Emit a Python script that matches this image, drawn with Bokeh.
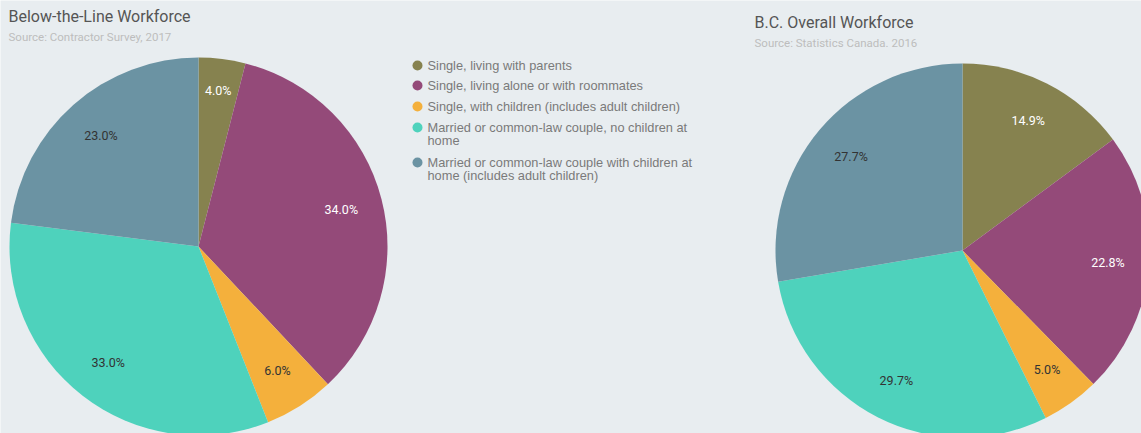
import math
from bokeh.plotting import figure
from bokeh.models import Range1d, ColumnDataSource
from bokeh.core.properties import value
from bokeh.embed import file_html
from bokeh.resources import INLINE

# ---- data ----
categories = [
    "Single, living with parents",
    "Single, living alone or with roommates",
    "Single, with children (includes adult children)",
    "Married or common-law couple, no children at\nhome",
    "Married or common-law couple with children at\nhome (includes adult children)",
]
btl_values = [4.0, 34.0, 6.0, 33.0, 23.0]
bc_values = [14.9, 22.8, 5.0, 29.7, 27.7]
titles = ["Below-the-Line Workforce", "B.C. Overall Workforce"]
sources = ["Source: Contractor Survey, 2017", "Source: Statistics Canada. 2016"]

# ---- styles ----
colors = ["#86824f", "#944a79", "#f4b03c", "#4ed2bc", "#6b93a3"]
label_colors = ["#ffffff", "#ffffff", "#333333", "#333333", "#333333"]
BG = "#e8edf0"

W, H = 1141, 433
PAGE_H = 433

def py(page_y):
    return PAGE_H - page_y

p = figure(width=W, height=H, output_backend="svg", toolbar_location=None,
           x_range=Range1d(0, W), y_range=Range1d(0, H),
           min_border=0, outline_line_color=None,
           background_fill_color=BG, border_fill_color=BG)
p.axis.visible = False
p.grid.visible = False

def draw_pie(vals, cx, cy, r):
    total = sum(vals)
    starts, ends, lx, ly, texts = [], [], [], [], []
    cum = 0.0
    for v in vals:
        a0 = math.pi / 2 - 2 * math.pi * cum / total
        cum += v
        a1 = math.pi / 2 - 2 * math.pi * cum / total
        starts.append(a0)
        ends.append(a1)
        mid = (a0 + a1) / 2
        frac = v / total
        rr = r * (0.83 if frac < 0.045 else 0.78)
        lx.append(cx + rr * math.cos(mid))
        ly.append(cy + rr * math.sin(mid))
        texts.append(f"{v:.1f}%")
    src = ColumnDataSource(dict(start=starts, end=ends, color=colors,
                                lx=lx, ly=ly, text=texts, tc=label_colors))
    p.wedge(x=cx, y=cy, radius=r, start_angle="start", end_angle="end",
            direction="clock", fill_color="color", line_color=None, source=src)
    p.text(x="lx", y="ly", text="text", text_color="tc", source=src,
           text_font=value("Roboto"), text_font_size="12.5px",
           text_align="center", text_baseline="middle")

draw_pie(btl_values, 198, py(246), 189)
draw_pie(bc_values, 962, py(250), 187)

# titles
for (tx, ty, sy), t, s in zip([(8, 16, 36), (754, 22, 42)], titles, sources):
    p.text(x=[tx], y=[py(ty)], text=[t], text_font=value("Roboto"),
           text_font_size="16px", text_color="#555555",
           text_align="left", text_baseline="middle")
    p.text(x=[tx], y=[py(sy)], text=[s], text_font=value("Roboto"),
           text_font_size="11.5px", text_color="#bdbdbd",
           text_align="left", text_baseline="middle")

# legend
row_y = [65, 85, 106, 127, 162]
p.scatter(x=[417] * 5, y=[py(v) for v in row_y], size=10, marker="circle",
          fill_color=colors, line_color=None)
for yy, cat in zip(row_y, categories):
    for k, line in enumerate(cat.split("\n")):
        p.text(x=[427], y=[py(yy + 13 * k)], text=[line],
               text_font=value("Liberation Sans"), text_font_size="12.8px",
               text_color="#7a7a7a", text_align="left", text_baseline="middle")

html = file_html(p, INLINE)
html = html.replace("<body>", '<body style="background:%s">' % BG, 1)
open("out.html", "w").write(html)
